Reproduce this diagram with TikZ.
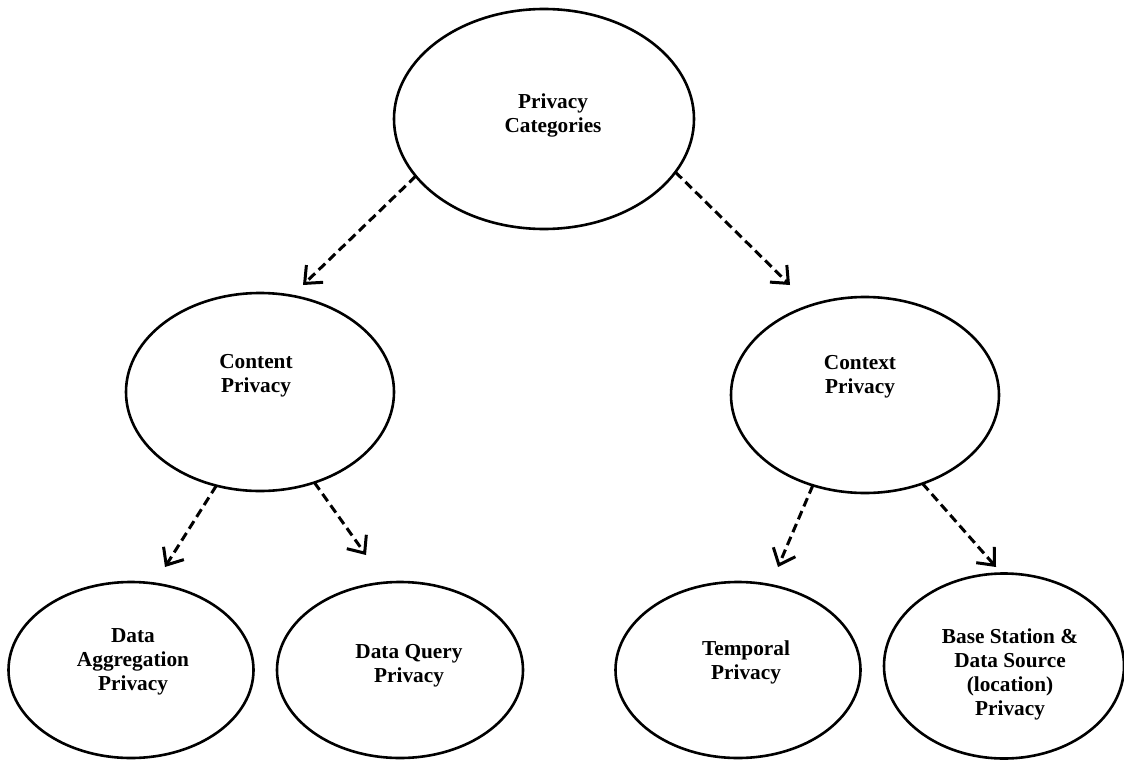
\documentclass[tikz,border=0pt]{standalone}
\usepackage{fontspec}
\setmainfont{Liberation Serif}
\usetikzlibrary{shapes.geometric,arrows.meta}
\begin{document}
\begin{tikzpicture}[x=1pt,y=-1pt,
  oval/.style={draw, ellipse, line width=2.6pt, inner sep=0pt, outer sep=0pt},
  lbl/.style={font=\bfseries\fontsize{21.3}{24}\selectfont, align=center, inner sep=0pt},
  arr/.style={line width=3pt, dash pattern=on 9pt off 5pt,
    -{Straight Barb[length=14pt,width=24pt,line width=3pt]}}]
\useasboundingbox (0,0) rectangle (1124,760);

\node[oval, minimum width=300pt, minimum height=220pt,
  label={[lbl, xshift=9pt, yshift=4pt]center:{Privacy\\Categories}}] (top) at (544,119) {};
\node[oval, minimum width=268pt, minimum height=198pt,
  label={[lbl, xshift=-4pt, yshift=16pt]center:{Content\\Privacy}}] (content) at (260,392) {};
\node[oval, minimum width=268pt, minimum height=196pt,
  label={[lbl, xshift=-5pt, yshift=18pt]center:{Context\\Privacy}}] (context) at (865,395) {};
\node[oval, minimum width=245pt, minimum height=176pt,
  label={[lbl, xshift=2pt, yshift=8pt]center:{Data\\Aggregation\\Privacy}}] (agg) at (131,670) {};
\node[oval, minimum width=246pt, minimum height=176pt,
  label={[lbl, xshift=9pt, yshift=4pt]center:{Data Query\\Privacy}}] (query) at (400,670) {};
\node[oval, minimum width=245pt, minimum height=176pt,
  label={[lbl, xshift=8pt, yshift=8pt]center:{Temporal\\Privacy}}] (temporal) at (738,670) {};
\node[oval, minimum width=240pt, minimum height=185pt,
  label={[lbl, xshift=6pt, yshift=-8pt]center:{Base Station \&\\Data Source\\(location)\\Privacy}}] (base) at (1004,666) {};

\coordinate (tA) at (303,285);
\coordinate (tB) at (790,285);
\coordinate (tC) at (165,567);
\coordinate (tD) at (366,555);
\coordinate (tE) at (778,567);
\coordinate (tF) at (996,567);

\draw[arr] (top.204) -- (tA);
\draw[arr] (top.338) -- (tB);
\draw[arr] (content.245) -- (tC);
\draw[arr] (content.301) -- (tD);
\draw[arr] (context.240) -- (tE);
\draw[arr] (context.303) -- (tF);
\end{tikzpicture}
\end{document}
